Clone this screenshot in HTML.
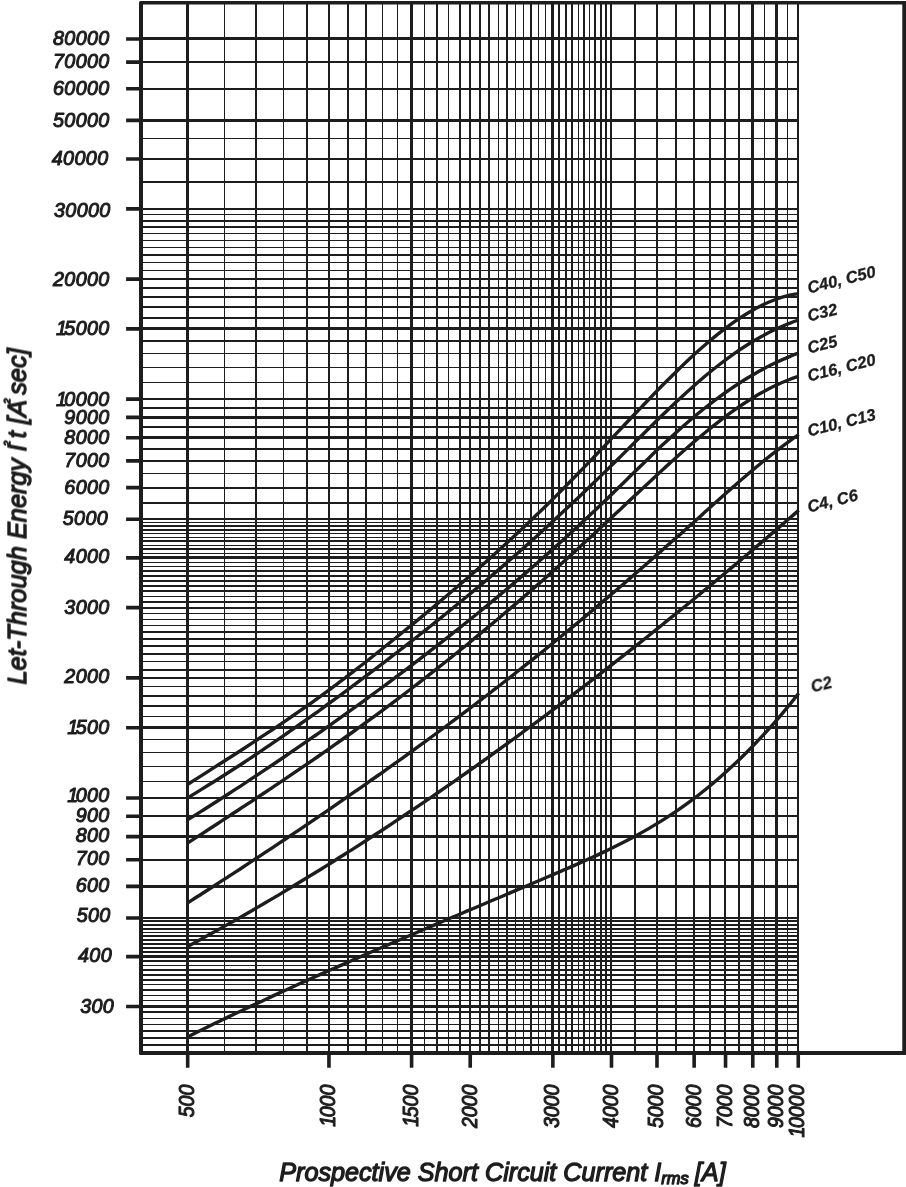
<!DOCTYPE html>
<html><head><meta charset="utf-8"><title>Let-Through Energy</title>
<style>html,body{margin:0;padding:0;background:#fff}svg{display:block}</style>
</head><body>
<svg width="906" height="1187" viewBox="0 0 906 1187">
<rect width="906" height="1187" fill="#fff"/>
<path d="M186 3h3v1050h-3zM224 3h1v1050h-1zM255 3h2v1050h-2zM283 3h1v1050h-1zM306 3h2v1050h-2zM328 3h2v1050h-2zM347 3h2v1050h-2zM365 3h2v1050h-2zM382 3h1v1050h-1zM397 3h1v1050h-1zM410 3h3v1050h-3zM424 3h1v1050h-1zM436 3h2v1050h-2zM448 3h1v1050h-1zM459 3h2v1050h-2zM469 3h2v1050h-2zM479 3h2v1050h-2zM488 3h2v1050h-2zM498 3h1v1050h-1zM506 3h2v1050h-2zM515 3h1v1050h-1zM523 3h1v1050h-1zM530 3h2v1050h-2zM538 3h1v1050h-1zM545 3h1v1050h-1zM551 3h3v1050h-3zM558 3h2v1050h-2zM565 3h2v1050h-2zM571 3h2v1050h-2zM578 3h1v1050h-1zM583 3h2v1050h-2zM589 3h1v1050h-1zM594 3h2v1050h-2zM600 3h2v1050h-2zM605 3h2v1050h-2zM610 3h2v1050h-2zM634 3h2v1050h-2zM656 3h2v1050h-2zM675 3h2v1050h-2zM693 3h2v1050h-2zM709 3h2v1050h-2zM724 3h2v1050h-2zM738 3h2v1050h-2zM751 3h3v1050h-3zM764 3h1v1050h-1zM775 3h3v1050h-3zM787 3h1v1050h-1zM797 3h2v1050h-2zM141 1044H799v2H141zM141 1037H799v2H141zM141 1030H799v2H141zM141 1024H799v1H141zM141 1018H799v1H141zM141 1011H799v2H141zM141 1005H799v3H141zM141 1000H799v1H141zM141 995H799v1H141zM141 989H799v2H141zM141 984H799v1H141zM141 979H799v2H141zM141 974H799v2H141zM141 969H799v2H141zM141 965H799v1H141zM141 960H799v2H141zM141 955H799v3H141zM141 951H799v2H141zM141 947H799v2H141zM141 943H799v2H141zM141 939H799v2H141zM141 935H799v2H141zM141 932H799v1H141zM141 928H799v2H141zM141 924H799v2H141zM141 920H799v2H141zM141 917H799v2H141zM141 885H799v3H141zM141 859H799v2H141zM141 835H799v3H141zM141 815H799v2H141zM141 797H799v2H141zM141 781H799v1H141zM141 766H799v1H141zM141 752H799v1H141zM141 739H799v1H141zM141 726H799v3H141zM141 716H799v1H141zM141 705H799v2H141zM141 695H799v2H141zM141 686H799v1H141zM141 677H799v2H141zM141 669H799v2H141zM141 661H799v1H141zM141 653H799v2H141zM141 645H799v2H141zM141 638H799v2H141zM141 631H799v2H141zM141 625H799v1H141zM141 619H799v1H141zM141 613H799v1H141zM141 607H799v2H141zM141 601H799v2H141zM141 596H799v1H141zM141 590H799v2H141zM141 585H799v2H141zM141 580H799v2H141zM141 575H799v2H141zM141 570H799v2H141zM141 566H799v1H141zM141 562H799v1H141zM141 556H799v3H141zM141 553H799v1H141zM141 548H799v2H141zM141 545H799v1H141zM141 540H799v2H141zM141 537H799v1H141zM141 533H799v1H141zM141 529H799v2H141zM141 525H799v2H141zM141 522H799v1H141zM141 518H799v2H141zM141 502H799v2H141zM141 487H799v2H141zM141 473H799v1H141zM141 460H799v2H141zM141 448H799v2H141zM141 436H799v3H141zM141 426H799v2H141zM141 416H799v3H141zM141 407H799v2H141zM141 398H799v2H141zM141 382H799v1H141zM141 367H799v1H141zM141 353H799v1H141zM141 340H799v2H141zM141 327H799v3H141zM141 317H799v2H141zM141 306H799v2H141zM141 296H799v2H141zM141 287H799v2H141zM141 278H799v2H141zM141 270H799v1H141zM141 262H799v1H141zM141 254H799v2H141zM141 247H799v1H141zM141 240H799v1H141zM141 233H799v1H141zM141 226H799v2H141zM141 220H799v2H141zM141 214H799v1H141zM141 208H799v2H141zM141 181H799v2H141zM141 158H799v2H141zM141 138H799v1H141zM141 119H799v3H141zM141 88H799v2H141zM141 61H799v2H141zM141 37H799v3H141z" fill="#1d1d1d" shape-rendering="crispEdges"/>
<path d="M140.6 1.1H906V4.6H143V1051H906V1055H140.6Q139 1055 139 1053.4V2.7Q139 1.1 140.6 1.1ZM902.3 1.1H906V1055H902.3Z" fill="#1d1d1d"/>
<path d="M126.1 39.00H141M126.1 62.12H141M126.1 88.82H141M126.1 120.40H141M126.1 159.05H141M126.1 208.87H141M126.1 279.10H141M126.1 328.92H141M126.1 399.15H141M126.1 417.40H141M126.1 437.80H141M126.1 460.92H141M126.1 487.62H141M126.1 519.20H141M126.1 557.85H141M126.1 607.67H141M126.1 677.90H141M126.1 727.72H141M126.1 797.95H141M126.1 816.20H141M126.1 836.60H141M126.1 859.72H141M126.1 886.42H141M126.1 918.00H141M126.1 956.65H141M126.1 1006.47H141" fill="none" stroke="#1d1d1d" stroke-width="3.6"/>
<path d="M187.68 1052V1067.8M328.95 1052V1067.8M411.59 1052V1067.8M470.22 1052V1067.8M552.86 1052V1067.8M611.50 1052V1067.8M656.98 1052V1067.8M694.14 1052V1067.8M725.55 1052V1067.8M752.77 1052V1067.8M776.78 1052V1067.8M798.25 1052V1067.8" fill="none" stroke="#1d1d1d" stroke-width="3.6"/>
<path d="M187.5 784.5C189.8 783.0 196.8 778.5 201.5 775.6C206.2 772.6 210.8 769.6 215.5 766.6C220.2 763.7 224.8 760.7 229.5 757.7C234.2 754.7 238.8 751.7 243.5 748.7C248.2 745.6 252.8 742.6 257.5 739.5C262.2 736.5 266.8 733.4 271.5 730.3C276.2 727.1 280.8 724.0 285.5 720.8C290.2 717.6 294.8 714.4 299.5 711.2C304.2 707.9 308.8 704.6 313.5 701.3C318.2 698.0 322.8 694.6 327.5 691.1C332.2 687.7 336.8 684.2 341.5 680.7C346.2 677.1 350.8 673.6 355.5 669.9C360.2 666.3 364.8 662.7 369.5 659.0C374.2 655.3 378.8 651.6 383.5 647.8C388.2 644.1 392.8 640.3 397.5 636.5C402.2 632.7 406.8 628.9 411.5 625.1C416.2 621.3 420.8 617.4 425.5 613.6C430.2 609.7 434.8 605.8 439.5 601.9C444.2 598.0 448.8 594.0 453.5 590.0C458.2 586.0 462.8 582.0 467.5 578.0C472.2 573.9 476.8 569.9 481.5 565.7C486.2 561.6 490.8 557.5 495.5 553.2C500.2 549.0 504.8 544.8 509.5 540.5C514.2 536.2 518.8 531.9 523.5 527.5C528.2 523.1 532.8 518.6 537.5 514.1C542.2 509.6 546.8 505.0 551.5 500.4C556.2 495.8 560.8 491.1 565.5 486.4C570.2 481.6 574.8 476.9 579.5 472.0C584.2 467.2 588.8 462.4 593.5 457.5C598.2 452.6 602.8 447.7 607.5 442.8C612.2 437.9 616.8 433.0 621.5 428.1C626.2 423.1 630.8 418.2 635.5 413.3C640.2 408.4 644.8 403.5 649.5 398.7C654.2 393.8 658.8 389.0 663.5 384.3C668.2 379.6 672.8 374.9 677.5 370.4C682.2 365.8 686.8 361.3 691.5 357.0C696.2 352.7 700.8 348.5 705.5 344.5C710.2 340.5 714.8 336.6 719.5 332.9C724.2 329.2 728.8 325.7 733.5 322.4C738.2 319.1 742.8 316.0 747.5 313.2C752.2 310.4 756.8 307.8 761.5 305.5C766.2 303.2 770.8 301.2 775.5 299.5C780.2 297.7 785.6 296.2 789.5 295.2C793.4 294.3 797.2 293.8 798.7 293.6" fill="none" stroke="#1d1d1d" stroke-width="3.4" stroke-linecap="butt" stroke-linejoin="round"/>
<path d="M187.5 798.0C189.8 796.5 196.8 792.3 201.5 789.4C206.2 786.5 210.8 783.6 215.5 780.7C220.2 777.7 224.8 774.8 229.5 771.8C234.2 768.8 238.8 765.7 243.5 762.7C248.2 759.6 252.8 756.5 257.5 753.4C262.2 750.3 266.8 747.1 271.5 743.9C276.2 740.7 280.8 737.5 285.5 734.3C290.2 731.1 294.8 727.8 299.5 724.5C304.2 721.2 308.8 717.9 313.5 714.6C318.2 711.3 322.8 707.9 327.5 704.5C332.2 701.1 336.8 697.7 341.5 694.3C346.2 690.8 350.8 687.4 355.5 683.9C360.2 680.4 364.8 676.9 369.5 673.4C374.2 669.9 378.8 666.3 383.5 662.8C388.2 659.2 392.8 655.6 397.5 652.0C402.2 648.4 406.8 644.8 411.5 641.1C416.2 637.5 420.8 633.8 425.5 630.1C430.2 626.4 434.8 622.6 439.5 618.9C444.2 615.1 448.8 611.4 453.5 607.5C458.2 603.7 462.8 599.9 467.5 596.0C472.2 592.1 476.8 588.2 481.5 584.3C486.2 580.4 490.8 576.4 495.5 572.4C500.2 568.4 504.8 564.3 509.5 560.3C514.2 556.2 518.8 552.1 523.5 547.9C528.2 543.8 532.8 539.6 537.5 535.4C542.2 531.1 546.8 526.9 551.5 522.6C556.2 518.3 560.8 514.0 565.5 509.6C570.2 505.2 574.8 500.8 579.5 496.4C584.2 492.0 588.8 487.5 593.5 483.0C598.2 478.5 602.8 474.0 607.5 469.4C612.2 464.8 616.8 460.2 621.5 455.6C626.2 450.9 630.8 446.3 635.5 441.6C640.2 437.0 644.8 432.4 649.5 427.8C654.2 423.2 658.8 418.6 663.5 414.1C668.2 409.6 672.8 405.1 677.5 400.8C682.2 396.4 686.8 392.1 691.5 388.0C696.2 383.8 700.8 379.8 705.5 375.8C710.2 371.9 714.8 368.1 719.5 364.5C724.2 360.9 728.8 357.4 733.5 354.1C738.2 350.8 742.8 347.7 747.5 344.8C752.2 341.8 756.8 339.1 761.5 336.5C766.2 333.9 770.8 331.5 775.5 329.3C780.2 327.1 785.6 324.9 789.5 323.3C793.4 321.8 797.2 320.5 798.7 320.0" fill="none" stroke="#1d1d1d" stroke-width="3.4" stroke-linecap="butt" stroke-linejoin="round"/>
<path d="M187.5 819.9C189.8 818.5 196.8 814.1 201.5 811.1C206.2 808.2 210.8 805.2 215.5 802.2C220.2 799.2 224.8 796.2 229.5 793.2C234.2 790.2 238.8 787.1 243.5 784.1C248.2 781.0 252.8 777.9 257.5 774.8C262.2 771.7 266.8 768.6 271.5 765.5C276.2 762.3 280.8 759.2 285.5 756.0C290.2 752.8 294.8 749.6 299.5 746.4C304.2 743.2 308.8 740.0 313.5 736.7C318.2 733.5 322.8 730.2 327.5 726.9C332.2 723.6 336.8 720.3 341.5 716.9C346.2 713.6 350.8 710.2 355.5 706.9C360.2 703.5 364.8 700.1 369.5 696.7C374.2 693.2 378.8 689.8 383.5 686.3C388.2 682.9 392.8 679.4 397.5 675.9C402.2 672.4 406.8 668.9 411.5 665.3C416.2 661.8 420.8 658.2 425.5 654.6C430.2 651.0 434.8 647.4 439.5 643.7C444.2 640.1 448.8 636.4 453.5 632.7C458.2 629.0 462.8 625.3 467.5 621.5C472.2 617.8 476.8 614.0 481.5 610.2C486.2 606.3 490.8 602.5 495.5 598.6C500.2 594.7 504.8 590.8 509.5 586.9C514.2 582.9 518.8 578.9 523.5 574.9C528.2 570.9 532.8 566.8 537.5 562.8C542.2 558.7 546.8 554.5 551.5 550.4C556.2 546.2 560.8 542.0 565.5 537.8C570.2 533.5 574.8 529.2 579.5 524.9C584.2 520.6 588.8 516.2 593.5 511.8C598.2 507.4 602.8 502.9 607.5 498.4C612.2 493.9 616.8 489.4 621.5 484.8C626.2 480.2 630.8 475.6 635.5 471.1C640.2 466.5 644.8 461.9 649.5 457.4C654.2 452.9 658.8 448.4 663.5 444.1C668.2 439.7 672.8 435.4 677.5 431.2C682.2 427.0 686.8 422.9 691.5 419.0C696.2 415.0 700.8 411.2 705.5 407.5C710.2 403.8 714.8 400.2 719.5 396.8C724.2 393.4 728.8 390.1 733.5 387.0C738.2 383.9 742.8 380.9 747.5 378.0C752.2 375.2 756.8 372.5 761.5 370.0C766.2 367.4 770.8 365.0 775.5 362.8C780.2 360.6 785.6 358.2 789.5 356.6C793.4 354.9 797.2 353.6 798.7 353.0" fill="none" stroke="#1d1d1d" stroke-width="3.4" stroke-linecap="butt" stroke-linejoin="round"/>
<path d="M187.5 843.1C189.8 841.6 196.8 837.1 201.5 834.1C206.2 831.0 210.8 828.0 215.5 825.0C220.2 821.9 224.8 818.9 229.5 815.8C234.2 812.8 238.8 809.7 243.5 806.6C248.2 803.6 252.8 800.5 257.5 797.4C262.2 794.3 266.8 791.2 271.5 788.1C276.2 785.0 280.8 781.8 285.5 778.7C290.2 775.5 294.8 772.4 299.5 769.2C304.2 766.0 308.8 762.8 313.5 759.6C318.2 756.4 322.8 753.1 327.5 749.9C332.2 746.6 336.8 743.3 341.5 740.0C346.2 736.7 350.8 733.4 355.5 730.0C360.2 726.7 364.8 723.3 369.5 719.9C374.2 716.5 378.8 713.1 383.5 709.6C388.2 706.1 392.8 702.7 397.5 699.1C402.2 695.6 406.8 692.1 411.5 688.5C416.2 684.9 420.8 681.3 425.5 677.7C430.2 674.0 434.8 670.4 439.5 666.7C444.2 663.0 448.8 659.3 453.5 655.5C458.2 651.8 462.8 648.0 467.5 644.2C472.2 640.3 476.8 636.5 481.5 632.6C486.2 628.8 490.8 624.9 495.5 621.0C500.2 617.0 504.8 613.1 509.5 609.1C514.2 605.1 518.8 601.1 523.5 597.1C528.2 593.0 532.8 589.0 537.5 584.9C542.2 580.8 546.8 576.6 551.5 572.5C556.2 568.3 560.8 564.1 565.5 559.9C570.2 555.7 574.8 551.5 579.5 547.2C584.2 543.0 588.8 538.7 593.5 534.4C598.2 530.0 602.8 525.7 607.5 521.3C612.2 516.9 616.8 512.5 621.5 508.2C626.2 503.8 630.8 499.4 635.5 495.0C640.2 490.6 644.8 486.2 649.5 481.9C654.2 477.5 658.8 473.2 663.5 468.9C668.2 464.7 672.8 460.4 677.5 456.3C682.2 452.1 686.8 448.0 691.5 444.0C696.2 440.0 700.8 436.0 705.5 432.2C710.2 428.4 714.8 424.7 719.5 421.1C724.2 417.5 728.8 414.0 733.5 410.7C738.2 407.4 742.8 404.2 747.5 401.3C752.2 398.3 756.8 395.4 761.5 392.8C766.2 390.2 770.8 387.7 775.5 385.5C780.2 383.3 785.6 381.0 789.5 379.5C793.4 377.9 797.2 376.8 798.7 376.3" fill="none" stroke="#1d1d1d" stroke-width="3.4" stroke-linecap="butt" stroke-linejoin="round"/>
<path d="M187.5 903.0C189.8 901.5 196.8 897.1 201.5 894.0C206.2 891.0 210.8 888.0 215.5 885.0C220.2 882.0 224.8 878.9 229.5 875.9C234.2 872.9 238.8 869.8 243.5 866.8C248.2 863.7 252.8 860.6 257.5 857.6C262.2 854.5 266.8 851.4 271.5 848.3C276.2 845.2 280.8 842.1 285.5 839.0C290.2 835.8 294.8 832.7 299.5 829.6C304.2 826.4 308.8 823.3 313.5 820.1C318.2 816.9 322.8 813.8 327.5 810.6C332.2 807.4 336.8 804.2 341.5 800.9C346.2 797.7 350.8 794.5 355.5 791.2C360.2 788.0 364.8 784.7 369.5 781.4C374.2 778.2 378.8 774.9 383.5 771.6C388.2 768.2 392.8 764.9 397.5 761.6C402.2 758.2 406.8 754.9 411.5 751.5C416.2 748.1 420.8 744.7 425.5 741.3C430.2 737.9 434.8 734.5 439.5 731.0C444.2 727.6 448.8 724.1 453.5 720.6C458.2 717.1 462.8 713.6 467.5 710.1C472.2 706.5 476.8 703.0 481.5 699.4C486.2 695.9 490.8 692.3 495.5 688.7C500.2 685.1 504.8 681.4 509.5 677.8C514.2 674.1 518.8 670.4 523.5 666.7C528.2 663.0 532.8 659.3 537.5 655.6C542.2 651.8 546.8 648.1 551.5 644.3C556.2 640.5 560.8 636.7 565.5 632.8C570.2 629.0 574.8 625.1 579.5 621.2C584.2 617.4 588.8 613.4 593.5 609.5C598.2 605.6 602.8 601.6 607.5 597.6C612.2 593.7 616.8 589.7 621.5 585.7C626.2 581.6 630.8 577.6 635.5 573.5C640.2 569.5 644.8 565.4 649.5 561.3C654.2 557.2 658.8 553.1 663.5 549.0C668.2 544.9 672.8 540.8 677.5 536.6C682.2 532.5 686.8 528.3 691.5 524.1C696.2 520.0 700.8 515.8 705.5 511.6C710.2 507.4 714.8 503.2 719.5 499.0C724.2 494.9 728.8 490.7 733.5 486.6C738.2 482.5 742.8 478.4 747.5 474.5C752.2 470.5 756.8 466.5 761.5 462.7C766.2 458.9 770.8 455.2 775.5 451.6C780.2 447.9 785.6 443.9 789.5 441.1C793.4 438.3 797.2 435.7 798.7 434.7" fill="none" stroke="#1d1d1d" stroke-width="3.4" stroke-linecap="butt" stroke-linejoin="round"/>
<path d="M187.5 946.6C189.8 945.4 196.8 941.6 201.5 939.0C206.2 936.5 210.8 933.9 215.5 931.3C220.2 928.7 224.8 926.1 229.5 923.4C234.2 920.8 238.8 918.1 243.5 915.5C248.2 912.8 252.8 910.1 257.5 907.4C262.2 904.6 266.8 901.9 271.5 899.1C276.2 896.4 280.8 893.6 285.5 890.8C290.2 888.0 294.8 885.2 299.5 882.3C304.2 879.5 308.8 876.6 313.5 873.8C318.2 870.9 322.8 868.0 327.5 865.1C332.2 862.2 336.8 859.2 341.5 856.3C346.2 853.3 350.8 850.3 355.5 847.4C360.2 844.4 364.8 841.3 369.5 838.3C374.2 835.3 378.8 832.2 383.5 829.2C388.2 826.1 392.8 823.0 397.5 819.9C402.2 816.8 406.8 813.7 411.5 810.5C416.2 807.4 420.8 804.2 425.5 801.1C430.2 797.9 434.8 794.7 439.5 791.5C444.2 788.3 448.8 785.0 453.5 781.8C458.2 778.5 462.8 775.3 467.5 772.0C472.2 768.7 476.8 765.4 481.5 762.1C486.2 758.7 490.8 755.4 495.5 752.0C500.2 748.7 504.8 745.3 509.5 741.9C514.2 738.5 518.8 735.1 523.5 731.7C528.2 728.2 532.8 724.8 537.5 721.3C542.2 717.9 546.8 714.4 551.5 710.9C556.2 707.4 560.8 703.9 565.5 700.3C570.2 696.8 574.8 693.3 579.5 689.7C584.2 686.1 588.8 682.6 593.5 679.0C598.2 675.4 602.8 671.7 607.5 668.1C612.2 664.5 616.8 660.8 621.5 657.2C626.2 653.5 630.8 649.8 635.5 646.1C640.2 642.4 644.8 638.7 649.5 635.0C654.2 631.2 658.8 627.5 663.5 623.7C668.2 620.0 672.8 616.2 677.5 612.4C682.2 608.6 686.8 604.8 691.5 601.0C696.2 597.1 700.8 593.3 705.5 589.4C710.2 585.6 714.8 581.7 719.5 577.8C724.2 573.9 728.8 570.0 733.5 566.1C738.2 562.2 742.8 558.2 747.5 554.3C752.2 550.3 756.8 546.4 761.5 542.4C766.2 538.4 770.8 534.4 775.5 530.4C780.2 526.4 785.6 521.6 789.5 518.3C793.4 515.0 797.2 511.6 798.7 510.3" fill="none" stroke="#1d1d1d" stroke-width="3.4" stroke-linecap="butt" stroke-linejoin="round"/>
<path d="M187.5 1036.9C189.8 1035.8 196.8 1032.3 201.5 1030.0C206.2 1027.7 210.8 1025.4 215.5 1023.1C220.2 1020.9 224.8 1018.6 229.5 1016.4C234.2 1014.2 238.8 1011.9 243.5 1009.7C248.2 1007.5 252.8 1005.3 257.5 1003.1C262.2 1001.0 266.8 998.8 271.5 996.6C276.2 994.5 280.8 992.3 285.5 990.2C290.2 988.1 294.8 985.9 299.5 983.8C304.2 981.7 308.8 979.6 313.5 977.5C318.2 975.4 322.8 973.4 327.5 971.3C332.2 969.2 336.8 967.1 341.5 965.1C346.2 963.0 350.8 961.0 355.5 958.9C360.2 956.9 364.8 954.9 369.5 952.8C374.2 950.8 378.8 948.8 383.5 946.8C388.2 944.7 392.8 942.7 397.5 940.7C402.2 938.7 406.8 936.7 411.5 934.7C416.2 932.7 420.8 930.7 425.5 928.7C430.2 926.8 434.8 924.8 439.5 922.8C444.2 920.8 448.8 918.8 453.5 916.8C458.2 914.9 462.8 912.9 467.5 910.9C472.2 908.9 476.8 907.0 481.5 905.0C486.2 903.0 490.8 901.0 495.5 899.0C500.2 897.1 504.8 895.1 509.5 893.1C514.2 891.1 518.8 889.2 523.5 887.2C528.2 885.2 532.8 883.2 537.5 881.2C542.2 879.2 546.8 877.2 551.5 875.2C556.2 873.2 560.8 871.3 565.5 869.2C570.2 867.2 574.8 865.2 579.5 863.1C584.2 861.1 588.8 859.0 593.5 856.8C598.2 854.7 602.8 852.5 607.5 850.3C612.2 848.0 616.8 845.7 621.5 843.3C626.2 840.9 630.8 838.5 635.5 836.0C640.2 833.4 644.8 830.8 649.5 828.1C654.2 825.3 658.8 822.5 663.5 819.6C668.2 816.6 672.8 813.6 677.5 810.4C682.2 807.2 686.8 803.9 691.5 800.4C696.2 796.9 700.8 793.3 705.5 789.5C710.2 785.8 714.8 781.9 719.5 777.8C724.2 773.7 728.8 769.5 733.5 765.1C738.2 760.8 742.8 756.2 747.5 751.5C752.2 746.8 756.8 742.0 761.5 736.9C766.2 731.9 770.8 726.7 775.5 721.4C780.2 716.0 785.6 709.5 789.5 704.8C793.4 700.1 797.2 695.2 798.7 693.3" fill="none" stroke="#1d1d1d" stroke-width="3.4" stroke-linecap="butt" stroke-linejoin="round"/>
<g opacity="0.999" font-family="'Liberation Sans', sans-serif" font-style="italic" fill="#1d1d1d" stroke="#1d1d1d" stroke-width="0.8" stroke-linejoin="round">
<text x="109.7" y="44.5" font-size="19.7" text-anchor="end" letter-spacing="0.4" stroke-width="1.05">80000</text>
<text x="109.7" y="68.2" font-size="19.7" text-anchor="end" letter-spacing="0.4" stroke-width="1.05">70000</text>
<text x="109.7" y="94.5" font-size="19.7" text-anchor="end" letter-spacing="0.4" stroke-width="1.05">60000</text>
<text x="109.7" y="127.0" font-size="19.7" text-anchor="end" letter-spacing="0.4" stroke-width="1.05">50000</text>
<text x="108.5" y="165.0" font-size="19.7" text-anchor="end" letter-spacing="0.4" stroke-width="1.05">40000</text>
<text x="110.7" y="216.8" font-size="19.7" text-anchor="end" letter-spacing="0.4" stroke-width="1.05">30000</text>
<text x="109.7" y="285.6" font-size="19.7" text-anchor="end" letter-spacing="0.4" stroke-width="1.05">20000</text>
<text x="109.7" y="335.0" font-size="19.7" text-anchor="end" letter-spacing="0.4" stroke-width="1.05">1<tspan dx="-3">5000</tspan></text>
<text x="109.7" y="405.9" font-size="19.7" text-anchor="end" letter-spacing="0.4" stroke-width="1.05">1<tspan dx="-3">0000</tspan></text>
<text x="109.7" y="424.1" font-size="19.7" text-anchor="end" letter-spacing="0.4" stroke-width="1.05">9000</text>
<text x="109.7" y="444.0" font-size="19.7" text-anchor="end" letter-spacing="0.4" stroke-width="1.05">8000</text>
<text x="109.7" y="466.9" font-size="19.7" text-anchor="end" letter-spacing="0.4" stroke-width="1.05">7000</text>
<text x="109.7" y="493.6" font-size="19.7" text-anchor="end" letter-spacing="0.4" stroke-width="1.05">6000</text>
<text x="108.1" y="524.7" font-size="19.7" text-anchor="end" letter-spacing="0.4" stroke-width="1.05">5000</text>
<text x="109.7" y="562.7" font-size="19.7" text-anchor="end" letter-spacing="0.4" stroke-width="1.05">4000</text>
<text x="109.7" y="614.1" font-size="19.7" text-anchor="end" letter-spacing="0.4" stroke-width="1.05">3000</text>
<text x="109.7" y="683.1" font-size="19.7" text-anchor="end" letter-spacing="0.4" stroke-width="1.05">2000</text>
<text x="109.7" y="733.8" font-size="19.7" text-anchor="end" letter-spacing="0.4" stroke-width="1.05">1<tspan dx="-3">500</tspan></text>
<text x="109.7" y="802.2" font-size="19.7" text-anchor="end" letter-spacing="0.4" stroke-width="1.05">1<tspan dx="-3">000</tspan></text>
<text x="109.7" y="821.6" font-size="19.7" text-anchor="end" letter-spacing="0.4" stroke-width="1.05">900</text>
<text x="109.7" y="841.7" font-size="19.7" text-anchor="end" letter-spacing="0.4" stroke-width="1.05">800</text>
<text x="109.7" y="865.3" font-size="19.7" text-anchor="end" letter-spacing="0.4" stroke-width="1.05">700</text>
<text x="109.7" y="892.0" font-size="19.7" text-anchor="end" letter-spacing="0.4" stroke-width="1.05">600</text>
<text x="110.7" y="922.2" font-size="19.7" text-anchor="end" letter-spacing="0.4" stroke-width="1.05">500</text>
<text x="112.0" y="961.9" font-size="19.7" text-anchor="end" letter-spacing="0.4" stroke-width="1.05">400</text>
<text x="114.2" y="1012.7" font-size="19.7" text-anchor="end" letter-spacing="0.4" stroke-width="1.05">300</text>
<text transform="translate(194.1 1084.7) rotate(-90) scale(1 1.1)" font-size="19.5" text-anchor="end" stroke-width="1.0">500</text>
<text transform="translate(335.4 1084.7) rotate(-90) scale(1 1.1)" font-size="19.5" text-anchor="end" stroke-width="1.0">1<tspan dx="-1.4">000</tspan></text>
<text transform="translate(418.0 1084.7) rotate(-90) scale(1 1.1)" font-size="19.5" text-anchor="end" stroke-width="1.0">1<tspan dx="-1.4">500</tspan></text>
<text transform="translate(476.7 1084.7) rotate(-90) scale(1 1.1)" font-size="19.5" text-anchor="end" stroke-width="1.0">2000</text>
<text transform="translate(559.3 1084.7) rotate(-90) scale(1 1.1)" font-size="19.5" text-anchor="end" stroke-width="1.0">3000</text>
<text transform="translate(617.9 1084.7) rotate(-90) scale(1 1.1)" font-size="19.5" text-anchor="end" stroke-width="1.0">4000</text>
<text transform="translate(663.4 1084.7) rotate(-90) scale(1 1.1)" font-size="19.5" text-anchor="end" stroke-width="1.0">5000</text>
<text transform="translate(700.6 1084.7) rotate(-90) scale(1 1.1)" font-size="19.5" text-anchor="end" stroke-width="1.0">6000</text>
<text transform="translate(732.0 1084.7) rotate(-90) scale(1 1.1)" font-size="19.5" text-anchor="end" stroke-width="1.0">7000</text>
<text transform="translate(759.2 1084.7) rotate(-90) scale(1 1.1)" font-size="19.5" text-anchor="end" stroke-width="1.0">8000</text>
<text transform="translate(783.2 1084.7) rotate(-90) scale(1 1.1)" font-size="19.5" text-anchor="end" stroke-width="1.0">9000</text>
<text transform="translate(803.5 1084.7) rotate(-90) scale(1 1.1)" font-size="19.5" text-anchor="end" stroke-width="1.0">1<tspan dx="-1.4">0000</tspan></text>
<text transform="translate(809.0 293.5) rotate(-14)" font-size="16.5" font-weight="bold" stroke-width="0.3">C40, C50</text>
<text transform="translate(809.0 321.5) rotate(-14)" font-size="16.5" font-weight="bold" stroke-width="0.3">C32</text>
<text transform="translate(809.0 353.5) rotate(-14)" font-size="16.5" font-weight="bold" stroke-width="0.3">C25</text>
<text transform="translate(809.0 381.5) rotate(-14)" font-size="16.5" font-weight="bold" stroke-width="0.3">C16, C20</text>
<text transform="translate(809.0 436.5) rotate(-14)" font-size="16.5" font-weight="bold" stroke-width="0.3">C10, C13</text>
<text transform="translate(809.0 512.5) rotate(-14)" font-size="16.5" font-weight="bold" stroke-width="0.3">C4, C6</text>
<text transform="translate(812.5 692.5) rotate(-14)" font-size="16.5" font-weight="bold" stroke-width="0.3">C2</text>
<text x="279.2" y="1180.5" font-size="25.2" stroke-width="1.3">Prospective Short Circuit Current I<tspan font-size="16.5" dy="3.2">rms</tspan><tspan dy="-3.2" dx="-1"> [A]</tspan></text>
<text transform="translate(26 684.5) rotate(-90)" font-size="25.4" stroke-width="1.3">Let-Through Energy I<tspan font-size="9.5" dy="-16.5" dx="-1.5">2</tspan><tspan dy="16.5" dx="2.5">t [A</tspan><tspan font-size="9.5" dy="-16.5" dx="-3.5">2</tspan><tspan dy="16.5" dx="3.5">sec]</tspan></text>
</g>
</svg>
</body></html>
